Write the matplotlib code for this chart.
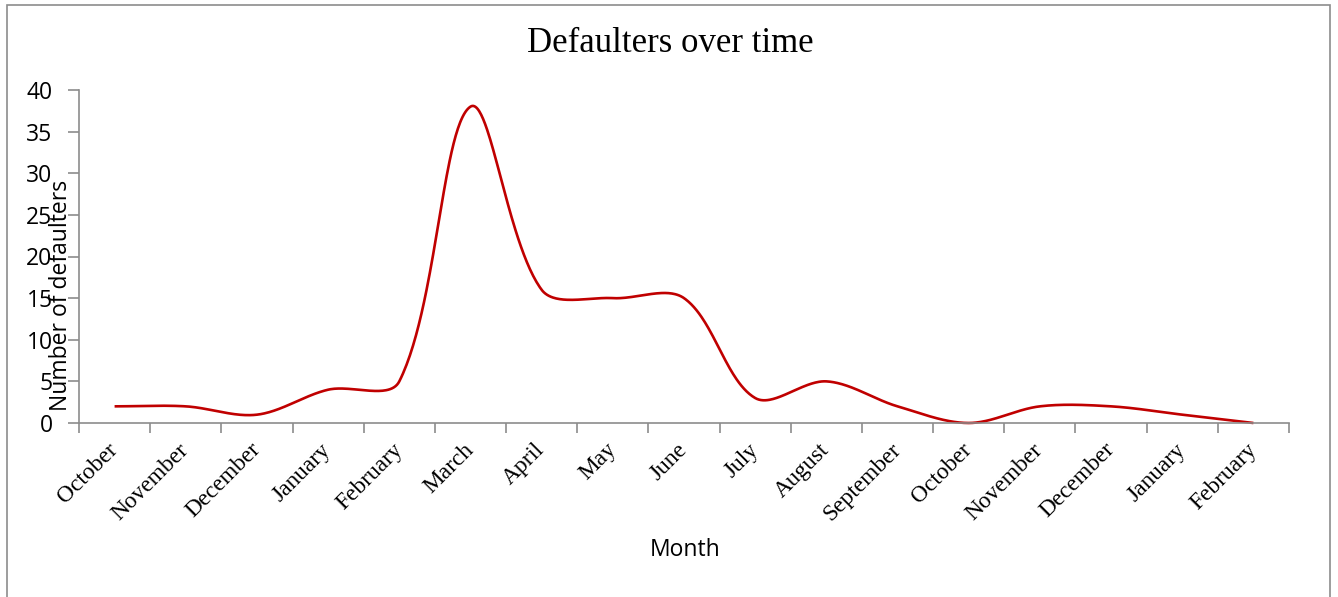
import numpy as np
import matplotlib
matplotlib.use("Agg")
import matplotlib.pyplot as plt
from matplotlib.patches import Rectangle

months = ["October", "November", "December", "January", "February", "March",
          "April", "May", "June", "July", "August", "September", "October",
          "November", "December", "January", "February"]
defaulters = [2, 2, 1, 4, 5, 38, 16, 15, 15, 3, 5, 2, 0, 2, 2, 1, 0]
y_ticks = [0, 5, 10, 15, 20, 25, 30, 35, 40]

W, H = 1338, 597
fig = plt.figure(figsize=(W / 100, H / 100), dpi=100)
fig.patch.set_facecolor("white")

# outer chart border
fig.patches.append(Rectangle((7 / W, -0.05), (1330 - 7) / W, 1 - 5 / H + 0.05,
                             transform=fig.transFigure, fill=False,
                             edgecolor="#8c8c8c", linewidth=1.2))

ax = fig.add_axes([79 / W, 1 - 423 / H, (1289 - 79) / W, (423 - 90) / H])
n = len(months)
ax.set_xlim(0, n)
ax.set_ylim(0, 40)

gray = "#8c8c8c"
for s in ["top", "right"]:
    ax.spines[s].set_visible(False)
for s in ["left", "bottom"]:
    ax.spines[s].set_color(gray)
    ax.spines[s].set_linewidth(1.2)

ax.set_yticks(y_ticks)
ax.set_yticklabels([str(v) for v in y_ticks], fontfamily="Open Sans", fontsize=16.5)
ax.tick_params(axis="y", direction="out", length=8, width=1.2, color=gray, pad=11)

ax.set_xticks(np.arange(0, n + 1))
ax.set_xticklabels([])
ax.tick_params(axis="x", which="major", direction="out", length=7, width=1.2, color=gray)
ax.set_xticks(np.arange(n) + 0.5, minor=True)
ax.set_xticklabels(months, minor=True, rotation=45, ha="right", va="center",
                   rotation_mode="anchor", fontfamily="Liberation Serif", fontsize=16.8)
ax.tick_params(axis="x", which="minor", length=0, pad=17)

# Excel-like smoothed line (length-scaled cardinal Bezier in display space)
xs = np.arange(n) + 0.5
ys = np.array(defaulters, dtype=float)
fig.canvas.draw()
P = ax.transData.transform(np.column_stack([xs, ys]))
Pe = np.vstack([P[0], P, P[-1]])
curve = []
tt = np.linspace(0, 1, 60)
for i in range(n - 1):
    p0, p1, p2, p3 = Pe[i], Pe[i + 1], Pe[i + 2], Pe[i + 3]
    d01 = np.linalg.norm(p1 - p0)
    d12 = np.linalg.norm(p2 - p1)
    d23 = np.linalg.norm(p3 - p2)
    c1 = p1 + (p2 - p0) * d12 / (3 * (d01 + d12))
    c2 = p2 - (p3 - p1) * d12 / (3 * (d12 + d23))
    t = tt[:, None]
    seg = ((1 - t) ** 3) * p1 + 3 * ((1 - t) ** 2) * t * c1 + 3 * (1 - t) * t ** 2 * c2 + t ** 3 * p2
    curve.append(seg if i == 0 else seg[1:])
curve = np.vstack(curve)
data_curve = ax.transData.inverted().transform(curve)
ax.plot(data_curve[:, 0], data_curve[:, 1], color="#C00000", linewidth=1.9,
        solid_capstyle="butt", clip_on=False)

fig.text(670 / W, 1 - 44 / H, "Defaulters over time", ha="center", va="center",
         fontfamily="Liberation Serif", fontsize=25)
fig.text(685 / W, 1 - 550 / H, "Month", ha="center", va="center",
         fontfamily="Open Sans", fontsize=16.5)
fig.text(61 / W, 1 - 295 / H, "Number of defaulters", ha="center", va="center",
         rotation=90, fontfamily="Open Sans", fontsize=16.5)

fig.savefig("out.png", dpi=100, facecolor="white")
